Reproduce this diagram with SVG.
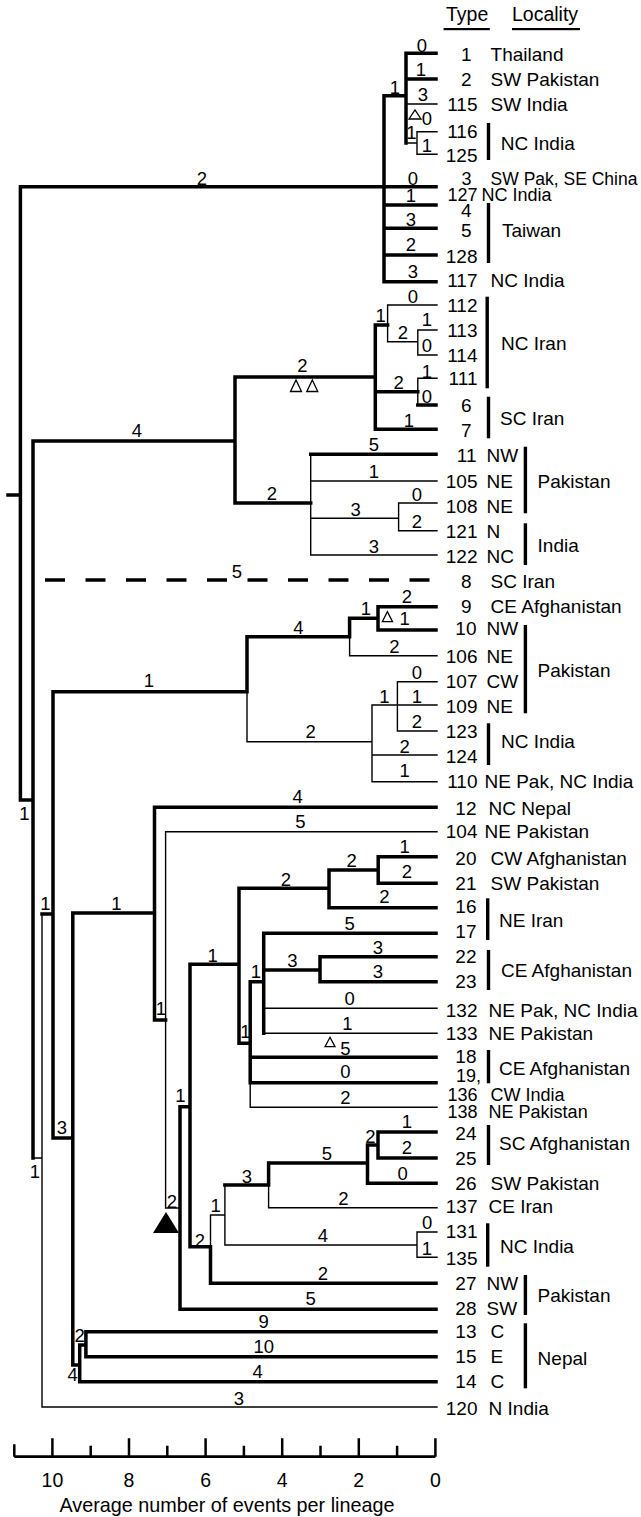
<svg xmlns="http://www.w3.org/2000/svg" width="641" height="1517" viewBox="0 0 641 1517">
<style>
text{font-family:"Liberation Sans",Arial,sans-serif;fill:#000}
.n{font-size:19px;text-anchor:end}
.l{font-size:19px}
.b{font-size:18.5px;text-anchor:middle}
.h{font-size:19.5px}
.ax{font-size:19.5px;text-anchor:middle}
.k{fill:none;stroke:#000;stroke-width:3.5;stroke-linecap:square}
.t{fill:none;stroke:#000;stroke-width:1.4;stroke-linecap:square}
.br{fill:#000}
.tri{fill:#fff;stroke:#000;stroke-width:1.3}
</style>
<rect width="641" height="1517" fill="#fff"/>
<g id="header">
<text class="h" x="446" y="21">Type</text>
<rect x="443.6" y="28" width="46.2" height="2.2"/>
<text class="h" x="512" y="21">Locality</text>
<rect x="512" y="28" width="68" height="2.2"/>
</g>
<g id="connectors">
<path class="k" d="M8 495H20.4M20.4 186.7V800M20.4 186.7H436M20.4 800H33
M384 95.7V281.7M384 95.7H406M406 53.3V143M406 53.3H436M406 79H436M384 205H436M384 228.3H436M384 255H436M384 281.7H436
M33 441V1158M33 441H235M235 377V503M235 377H375.3M375.3 325V429.3M375.3 325H387.6M375.3 391.7H417.8M417.8 405H436M375.3 429.3H436M235 503H310.7M310.7 454.3H436
M53 691.7V1138M53 691.7H247M247 636.7V691.7M247 636.7H349.6M349.6 618.3V636.7M349.6 618.3H378M378 606.7V630M378 606.7H436M378 630H436
M42 914H53M53 1138H72.8M72.8 913V1365M72.8 913H154.5M72.8 1365H79.7M79.7 1345V1381.7M79.7 1345H85.9M85.9 1331.7V1356.7M85.9 1331.7H436M85.9 1356.7H436M79.7 1381.7H436
M154.5 807.3V1020M154.5 807.3H436M154.5 1020H165.6M180 1106.7V1309.3M180 1106.7H190M180 1309.3H436M190 964.3V1246.7M190 964.3H239M190 1246.7H210.5M210.5 1246.7V1283.3M210.5 1283.3H436
M224.9 1185H268.6M268.6 1163V1185M268.6 1163H367.5M367.5 1145V1183.3M367.5 1145H378M378 1132V1158M378 1132H436M378 1158H436M367.5 1183.3H436
M239 888.3V1043.3M239 888.3H329M329 870V907.7M329 870H378.2M378.2 856.7V883.3M378.2 856.7H436M378.2 883.3H436M329 907.7H436
M239 1043.3H250.2M250.2 981.7V1082.7M250.2 981.7H263.7M263.7 933.3V1033.3M263.7 933.3H436M263.7 970H320M320 956.7V981.7M320 956.7H436M320 981.7H436M250.2 1057.3H436M250.2 1082.7H436"/>
<path class="t" d="M406 104H437M406 143H417M417 131.7V154.3M417 131.7H437M417 154.3H437
M387.6 305V341.7M387.6 305H437M387.6 341.7H417.8M417.8 330V355M417.8 330H437M417.8 355H437M417.8 378.3V405M417.8 378.3H437
M310.7 454.3V555M310.7 481H437M310.7 518.3H398.6M398.6 503V530.7M398.6 503H437M398.6 530.7H437M310.7 555H437
M247 691.7V741.7M247 741.7H372M349.6 636.7V655.7M349.6 655.7H437M372 705V781.7M372 705H437M397.4 681.7V731M397.4 681.7H437M397.4 731H437M372 755H437M372 781.7H437
M33 1158H42M42 914V1407M42 1407H437M165.6 831.7V1208M165.6 831.7H437M165.6 1208H180
M210.5 1215V1246.7M210.5 1215H224.9M224.9 1185V1245M268.6 1185V1207.7M268.6 1207.7H437M224.9 1245H417M417 1232V1257.3M417 1232H437M417 1257.3H437
M263.7 1008.3H437M263.7 1033.3H437M250.2 1082.7V1107.3M250.2 1107.3H437"/>
<line x1="45" y1="580" x2="430" y2="580" stroke="#000" stroke-width="3.5" stroke-dasharray="20 20.5"/>
<polygon class="tri" points="409,119 415,110 421,119"/>
<polygon class="tri" points="290.5,391.5 296,380 301.5,391.5"/>
<polygon class="tri" points="306.8,391.5 312.3,380 317.8,391.5"/>
<polygon class="tri" points="382.3,621.7 387.4,611.7 392.5,621.7"/>
<polygon class="tri" points="325,1046.7 330,1037.3 335,1046.7"/>
<polygon points="153,1233 166,1212 179,1233" fill="#000"/>
</g>
<g id="branch-labels">
<text class="b" x="422" y="51.6">0</text>
<text class="b" x="421" y="75.6">1</text>
<text class="b" x="423" y="100.6">3</text>
<text class="b" x="395" y="94">1</text>
<text class="b" x="427" y="124.6">0</text>
<text class="b" x="411.3" y="138.6">1</text>
<text class="b" x="427" y="151.6">1</text>
<text class="b" x="202" y="184.6">2</text>
<text class="b" x="413" y="184.6">0</text>
<text class="b" x="411" y="202">1</text>
<text class="b" x="411" y="225.6">3</text>
<text class="b" x="411" y="250.6">2</text>
<text class="b" x="413" y="278">3</text>
<text class="b" x="413" y="302.6">0</text>
<text class="b" x="380.6" y="321.6">1</text>
<text class="b" x="403" y="338.6">2</text>
<text class="b" x="427" y="326">1</text>
<text class="b" x="427" y="351.6">0</text>
<text class="b" x="302.5" y="371.6">2</text>
<text class="b" x="427" y="377.6">1</text>
<text class="b" x="398.6" y="388.6">2</text>
<text class="b" x="427" y="402.6">0</text>
<text class="b" x="408.8" y="426.6">1</text>
<text class="b" x="137" y="436.6">4</text>
<text class="b" x="374" y="451">5</text>
<text class="b" x="374" y="477.6">1</text>
<text class="b" x="417" y="501">0</text>
<text class="b" x="272" y="499.6">2</text>
<text class="b" x="355.7" y="515.6">3</text>
<text class="b" x="417" y="528.3">2</text>
<text class="b" x="374" y="552.6">3</text>
<text class="b" x="237" y="578.3">5</text>
<text class="b" x="406.8" y="602.6">2</text>
<text class="b" x="366" y="614.6">1</text>
<text class="b" x="404.7" y="625">1</text>
<text class="b" x="298.5" y="633.6">4</text>
<text class="b" x="394.5" y="653.3">2</text>
<text class="b" x="149" y="686.6">1</text>
<text class="b" x="417" y="679">0</text>
<text class="b" x="384.3" y="703.3">1</text>
<text class="b" x="417" y="703.3">1</text>
<text class="b" x="417" y="728.3">2</text>
<text class="b" x="310.7" y="738.3">2</text>
<text class="b" x="404.7" y="753.3">2</text>
<text class="b" x="404.7" y="776.6">1</text>
<text class="b" x="297.6" y="803.3">4</text>
<text class="b" x="24.5" y="819.6">1</text>
<text class="b" x="300.5" y="828.3">5</text>
<text class="b" x="404.7" y="853.3">1</text>
<text class="b" x="351.6" y="866.6">2</text>
<text class="b" x="406.8" y="878.3">2</text>
<text class="b" x="286" y="885.6">2</text>
<text class="b" x="384.3" y="903.3">2</text>
<text class="b" x="45.5" y="909.6">1</text>
<text class="b" x="116.5" y="909.6">1</text>
<text class="b" x="349.6" y="929.6">5</text>
<text class="b" x="378" y="953.6">3</text>
<text class="b" x="212.6" y="961.6">1</text>
<text class="b" x="292.3" y="966.6">3</text>
<text class="b" x="256" y="978.3">1</text>
<text class="b" x="378" y="978.3">3</text>
<text class="b" x="349.6" y="1004.6">0</text>
<text class="b" x="161" y="1014.6">1</text>
<text class="b" x="347.5" y="1029.6">1</text>
<text class="b" x="245.5" y="1038.3">1</text>
<text class="b" x="345.5" y="1054.6">5</text>
<text class="b" x="345.5" y="1078.3">0</text>
<text class="b" x="180.5" y="1101.6">1</text>
<text class="b" x="345.5" y="1103.6">2</text>
<text class="b" x="406.8" y="1128.3">1</text>
<text class="b" x="62" y="1133.6">3</text>
<text class="b" x="370.5" y="1143">2</text>
<text class="b" x="406.8" y="1154.3">2</text>
<text class="b" x="327" y="1159.6">5</text>
<text class="b" x="35" y="1178.3">1</text>
<text class="b" x="402.7" y="1179.6">0</text>
<text class="b" x="247" y="1183.3">3</text>
<text class="b" x="343.4" y="1204.6">2</text>
<text class="b" x="172" y="1208.3">2</text>
<text class="b" x="215.6" y="1211.6">1</text>
<text class="b" x="427.2" y="1228.6">0</text>
<text class="b" x="323" y="1241.6">4</text>
<text class="b" x="200" y="1246.6">2</text>
<text class="b" x="427" y="1254.6">1</text>
<text class="b" x="323" y="1279.6">2</text>
<text class="b" x="310.7" y="1304.6">5</text>
<text class="b" x="263.7" y="1328.3">9</text>
<text class="b" x="79.7" y="1341.6">2</text>
<text class="b" x="263.7" y="1353.3">10</text>
<text class="b" x="257.6" y="1378.3">4</text>
<text class="b" x="72.6" y="1380.6">4</text>
<text class="b" x="239" y="1404.6">3</text>
</g>
<g id="tip-1"><text class="n" x="471.5" y="61">1</text><text class="l" x="490.6" y="61">Thailand</text></g>
<g id="tip-2"><text class="n" x="471.5" y="86">2</text><text class="l" x="490.6" y="86">SW Pakistan</text></g>
<g id="tip-115"><text class="n" x="477.5" y="111">115</text><text class="l" x="490.6" y="111">SW India</text></g>
<g id="tip-116"><text class="n" x="477.5" y="138">116</text></g>
<g id="tip-125"><text class="n" x="477.5" y="161.5">125</text></g>
<g id="grp-ncindia-1"><rect class="br" x="486.8" y="123" width="3.4" height="37"/><text class="l" x="500.8" y="150">NC India</text></g>
<g id="tip-3"><text class="n" x="471.5" y="185" style="font-size:18px">3</text><text class="l" x="490.6" y="185" style="font-size:17.5px">SW Pak, SE China</text></g>
<g id="tip-127"><text class="n" x="477.5" y="200.5" style="font-size:18px">127</text><text class="l" x="481.6" y="200.5" style="font-size:18px">NC India</text></g>
<g id="tip-4"><text class="n" x="471.5" y="216.7">4</text></g>
<g id="tip-5"><text class="n" x="471.5" y="236.5">5</text></g>
<g id="tip-128"><text class="n" x="477.5" y="263">128</text></g>
<g id="grp-taiwan"><rect class="br" x="486.8" y="203" width="3.4" height="60"/><text class="l" x="502" y="236.5">Taiwan</text></g>
<g id="tip-117"><text class="n" x="477.5" y="287">117</text><text class="l" x="490.6" y="287">NC India</text></g>
<g id="tip-112"><text class="n" x="477.5" y="311.5">112</text></g>
<g id="tip-113"><text class="n" x="477.5" y="336.5">113</text></g>
<g id="tip-114"><text class="n" x="477.5" y="361.5">114</text></g>
<g id="tip-111"><text class="n" x="477.5" y="385">111</text></g>
<g id="grp-nciran"><rect class="br" x="485.5" y="296.7" width="3.4" height="91.6"/><text class="l" x="501" y="350">NC Iran</text></g>
<g id="tip-6"><text class="n" x="471.5" y="411.5">6</text></g>
<g id="tip-7"><text class="n" x="471.5" y="436.5">7</text></g>
<g id="grp-sciran"><rect class="br" x="486.8" y="396.7" width="3.4" height="41.6"/><text class="l" x="500" y="425">SC Iran</text></g>
<g id="tip-11"><text class="n" x="476.5" y="461.5">11</text><text class="l" x="486.5" y="461.5">NW</text></g>
<g id="tip-105"><text class="n" x="477.5" y="487.5">105</text><text class="l" x="486.5" y="487.5">NE</text></g>
<g id="tip-108"><text class="n" x="477.5" y="513">108</text><text class="l" x="486.5" y="513">NE</text></g>
<g id="grp-pakistan-1"><rect class="br" x="523.7" y="446.7" width="3.4" height="66.6"/><text class="l" x="537.6" y="488">Pakistan</text></g>
<g id="tip-121"><text class="n" x="477.5" y="538">121</text><text class="l" x="486.5" y="538">N</text></g>
<g id="tip-122"><text class="n" x="477.5" y="563">122</text><text class="l" x="486.5" y="563">NC</text></g>
<g id="grp-india"><rect class="br" x="523.7" y="523.3" width="3.4" height="41.7"/><text class="l" x="537.6" y="551.5">India</text></g>
<g id="tip-8"><text class="n" x="471.5" y="588">8</text><text class="l" x="490.6" y="588">SC Iran</text></g>
<g id="tip-9"><text class="n" x="471.5" y="613">9</text><text class="l" x="490.6" y="613">CE Afghanistan</text></g>
<g id="tip-10"><text class="n" x="476.5" y="635">10</text><text class="l" x="486.5" y="635">NW</text></g>
<g id="tip-106"><text class="n" x="477.5" y="663">106</text><text class="l" x="486.5" y="663">NE</text></g>
<g id="tip-107"><text class="n" x="477.5" y="688">107</text><text class="l" x="486.5" y="688">CW</text></g>
<g id="tip-109"><text class="n" x="477.5" y="713">109</text><text class="l" x="486.5" y="713">NE</text></g>
<g id="grp-pakistan-2"><rect class="br" x="523.7" y="625" width="3.4" height="88.3"/><text class="l" x="537.6" y="676.5">Pakistan</text></g>
<g id="tip-123"><text class="n" x="477.5" y="737.5">123</text></g>
<g id="tip-124"><text class="n" x="477.5" y="763">124</text></g>
<g id="grp-ncindia-2"><rect class="br" x="486.8" y="723.3" width="3.4" height="41.7"/><text class="l" x="501" y="748">NC India</text></g>
<g id="tip-110"><text class="n" x="477.5" y="788">110</text><text class="l" x="484.5" y="788">NE Pak, NC India</text></g>
<g id="tip-12"><text class="n" x="476.5" y="815">12</text><text class="l" x="488.6" y="815">NC Nepal</text></g>
<g id="tip-104"><text class="n" x="477.5" y="838">104</text><text class="l" x="484.5" y="838">NE Pakistan</text></g>
<g id="tip-20"><text class="n" x="476.5" y="865">20</text><text class="l" x="490.6" y="865">CW Afghanistan</text></g>
<g id="tip-21"><text class="n" x="476.5" y="890">21</text><text class="l" x="490.6" y="890">SW Pakistan</text></g>
<g id="tip-16"><text class="n" x="476.5" y="913">16</text></g>
<g id="tip-17"><text class="n" x="476.5" y="938">17</text></g>
<g id="grp-neiran"><rect class="br" x="486" y="898.3" width="3.4" height="41.7"/><text class="l" x="499" y="926.5">NE Iran</text></g>
<g id="tip-22"><text class="n" x="476.5" y="963">22</text></g>
<g id="tip-23"><text class="n" x="476.5" y="988">23</text></g>
<g id="grp-ceafghanistan-1"><rect class="br" x="486.8" y="950" width="3.4" height="40"/><text class="l" x="501" y="976.5">CE Afghanistan</text></g>
<g id="tip-132"><text class="n" x="477.5" y="1016.5">132</text><text class="l" x="488.6" y="1016.5">NE Pak, NC India</text></g>
<g id="tip-133"><text class="n" x="477.5" y="1040">133</text><text class="l" x="488.6" y="1040">NE Pakistan</text></g>
<g id="tip-18"><text class="n" x="476.5" y="1063">18</text></g>
<g id="tip-19"><text class="n" x="481" y="1082" style="font-size:18px">19,</text></g>
<g id="grp-ceafghanistan-2"><rect class="br" x="486.8" y="1050" width="3.4" height="33.3"/><text class="l" x="499" y="1075">CE Afghanistan</text></g>
<g id="tip-136"><text class="n" x="477.5" y="1101" style="font-size:18px">136</text><text class="l" x="490.6" y="1101" style="font-size:18px">CW India</text></g>
<g id="tip-138"><text class="n" x="477.5" y="1118" style="font-size:18px">138</text><text class="l" x="488.6" y="1118" style="font-size:18px">NE Pakistan</text></g>
<g id="tip-24"><text class="n" x="476.5" y="1140">24</text></g>
<g id="tip-25"><text class="n" x="476.5" y="1165">25</text></g>
<g id="grp-scafghanistan"><rect class="br" x="486.8" y="1125" width="3.4" height="40"/><text class="l" x="499" y="1150">SC Afghanistan</text></g>
<g id="tip-26"><text class="n" x="476.5" y="1190">26</text><text class="l" x="490.6" y="1190">SW Pakistan</text></g>
<g id="tip-137"><text class="n" x="477.5" y="1213">137</text><text class="l" x="488.6" y="1213">CE Iran</text></g>
<g id="tip-131"><text class="n" x="477.5" y="1238">131</text></g>
<g id="tip-135"><text class="n" x="477.5" y="1265">135</text></g>
<g id="grp-ncindia-3"><rect class="br" x="486" y="1223.3" width="3.4" height="43.4"/><text class="l" x="500" y="1253">NC India</text></g>
<g id="tip-27"><text class="n" x="476.5" y="1290">27</text><text class="l" x="486.5" y="1290">NW</text></g>
<g id="tip-28"><text class="n" x="476.5" y="1315">28</text><text class="l" x="486.5" y="1315">SW</text></g>
<g id="grp-pakistan-3"><rect class="br" x="523.7" y="1275" width="3.4" height="40"/><text class="l" x="537.6" y="1301.5">Pakistan</text></g>
<g id="tip-13"><text class="n" x="476.5" y="1338">13</text><text class="l" x="490.6" y="1338">C</text></g>
<g id="tip-15"><text class="n" x="476.5" y="1363">15</text><text class="l" x="490.6" y="1363">E</text></g>
<g id="tip-14"><text class="n" x="476.5" y="1388">14</text><text class="l" x="490.6" y="1388">C</text></g>
<g id="grp-nepal"><rect class="br" x="523.7" y="1323.3" width="3.4" height="65"/><text class="l" x="537.6" y="1365">Nepal</text></g>
<g id="tip-120"><text class="n" x="477.5" y="1415">120</text><text class="l" x="488.6" y="1415">N India</text></g>
<g id="scale">
<path d="M14.3 1456.7H435.4" stroke="#000" stroke-width="2.8" fill="none"/>
<path d="M14.3 1444.3V1456.7M52.4 1438.3V1456.7M90.7 1445.7V1456.7M129 1438.3V1456.7M167.3 1445.7V1456.7M205.6 1438.3V1456.7M243.9 1445.7V1456.7M282.2 1438.3V1456.7M320.5 1445.7V1456.7M358.8 1438.3V1456.7M397.1 1445.7V1456.7M435.4 1438.3V1456.7" stroke="#000" stroke-width="2.5" fill="none"/>
<text class="ax" x="52.4" y="1487">10</text>
<text class="ax" x="129" y="1487">8</text>
<text class="ax" x="205.6" y="1487">6</text>
<text class="ax" x="282.2" y="1487">4</text>
<text class="ax" x="358.8" y="1487">2</text>
<text class="ax" x="435.4" y="1487">0</text>
<text class="ax" x="227" y="1512" style="font-size:19.8px">Average number of events per lineage</text>
</g>
</svg>
